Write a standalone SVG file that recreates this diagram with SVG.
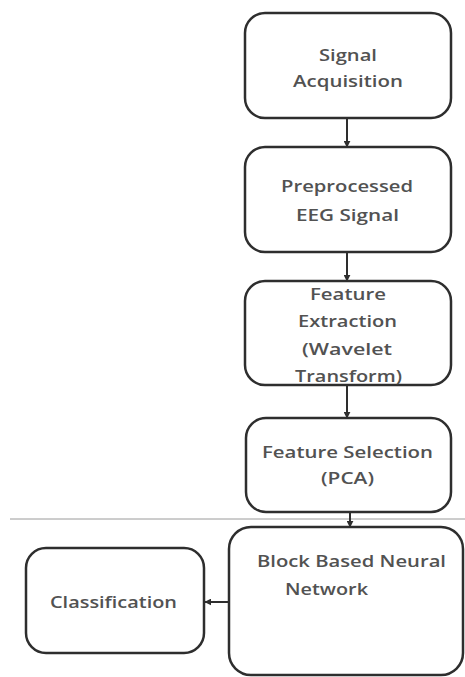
<svg xmlns="http://www.w3.org/2000/svg" width="465" height="677" viewBox="0 0 465 677">
<style>
.box{fill:#fff;stroke:#2e2e2e;stroke-width:2.5}
.t{font-family:"Open Sans","Liberation Sans",sans-serif;font-size:17px;font-weight:600;fill:#525252;text-anchor:middle}
.c{stroke:#2e2e2e;stroke-width:2;fill:none}
</style>
<defs>
<marker id="ah" viewBox="0 0 10 10" refX="9" refY="5" markerWidth="7" markerHeight="7" orient="auto" markerUnits="userSpaceOnUse">
<path d="M0,0 L10,5 L0,10 z" fill="#2e2e2e"/>
</marker>
</defs>
<rect width="465" height="677" fill="#fff"/>
<line x1="10" y1="519" x2="465" y2="519" stroke="#9a9a9a" stroke-width="1"/>
<g id="n1"><rect class="box" x="245" y="13" width="206" height="105" rx="20"/>
<text class="t" x="348" y="61" textLength="58" lengthAdjust="spacingAndGlyphs">Signal</text><text class="t" x="348" y="87" textLength="110" lengthAdjust="spacingAndGlyphs">Acquisition</text></g>
<g id="n2"><rect class="box" x="245" y="147" width="206" height="105" rx="20"/>
<text class="t" x="347" y="192" textLength="132" lengthAdjust="spacingAndGlyphs">Preprocessed</text><text class="t" x="347.5" y="221" textLength="103" lengthAdjust="spacingAndGlyphs">EEG Signal</text></g>
<g id="n3"><rect class="box" x="245" y="281" width="206" height="104" rx="20"/>
<text class="t" x="348" y="300" textLength="76" lengthAdjust="spacingAndGlyphs">Feature</text><text class="t" x="347.5" y="327" textLength="99" lengthAdjust="spacingAndGlyphs">Extraction</text><text class="t" x="347" y="355" textLength="90" lengthAdjust="spacingAndGlyphs">(Wavelet</text><text class="t" x="348.5" y="382" textLength="107" lengthAdjust="spacingAndGlyphs">Transform)</text></g>
<g id="n4"><rect class="box" x="246" y="418" width="205" height="94" rx="20"/>
<text class="t" x="347.5" y="458" textLength="171" lengthAdjust="spacingAndGlyphs">Feature Selection</text><text class="t" x="347.5" y="484" textLength="53" lengthAdjust="spacingAndGlyphs">(PCA)</text></g>
<g id="n5"><rect class="box" x="229" y="527" width="234" height="148" rx="22"/>
<text class="t" x="351.5" y="567" textLength="189" lengthAdjust="spacingAndGlyphs">Block Based Neural</text><text class="t" x="285" y="595" style="text-anchor:start" textLength="83" lengthAdjust="spacingAndGlyphs">Network</text></g>
<g id="n6"><rect class="box" x="26" y="548" width="178" height="105" rx="20"/>
<text class="t" x="113.5" y="608" textLength="127" lengthAdjust="spacingAndGlyphs">Classification</text></g>
<g id="connectors">
<line class="c" x1="347" y1="119" x2="347" y2="147" marker-end="url(#ah)"/>
<line class="c" x1="347" y1="253" x2="347" y2="281" marker-end="url(#ah)"/>
<line class="c" x1="347" y1="386" x2="347" y2="418" marker-end="url(#ah)"/>
<line class="c" x1="350" y1="513" x2="350" y2="527" marker-end="url(#ah)"/>
<line class="c" x1="228" y1="602" x2="205" y2="602" marker-end="url(#ah)"/>
</g>
</svg>
